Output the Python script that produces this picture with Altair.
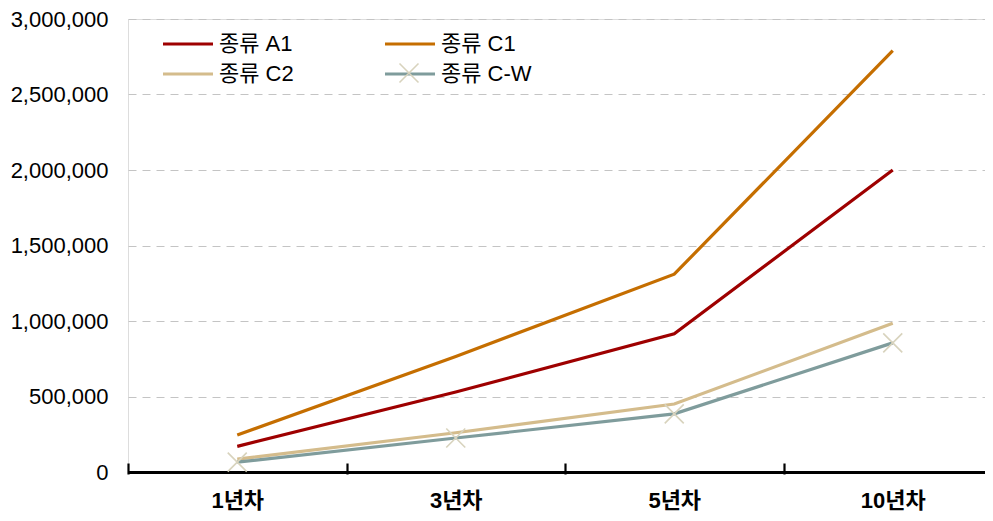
import altair as alt
import pandas as pd

categories = ["1년차", "3년차", "5년차", "10년차"]
series_names = ["종류 A1", "종류 C1", "종류 C2", "종류 C-W"]
series_codes = ["a1", "c1", "c2", "cw"]
vals_a1 = [170000, 530000, 915000, 2000000]
vals_c1 = [245000, 765000, 1310000, 2790000]
vals_c2 = [85000, 260000, 450000, 985000]
vals_cw = [65000, 225000, 385000, 855000]
y_ticks = [0, 500000, 1000000, 1500000, 2000000, 2500000, 3000000]

colors = ["#9e0000", "#c56e00", "#d4bc8c", "#7f9c9c"]
marker_color = "#d8d3bd"

rows = []
for name, code, vals in zip(series_names, series_codes, [vals_a1, vals_c1, vals_c2, vals_cw]):
    for c, v in zip(categories, vals):
        rows.append({"cat": c, "series": name, "code": code, "value": v,
                     "ord": series_names.index(name)})
df = pd.DataFrame(rows)
df_cw = df[df["code"] == "cw"]

LAT = "Liberation Sans, Noto Sans CJK KR"

x_enc = alt.X(
    "cat:N",
    sort=categories,
    scale=alt.Scale(paddingInner=0, paddingOuter=0, range=[0, 874]),
    axis=alt.Axis(
        title=None, domain=False, offset=-9, ticks=True, tickBand="extent",
        tickSize=11, tickColor="#000", tickWidth=2.2, labelAngle=0,
        labelFont=LAT, labelFontSize=22, labelFontWeight="bold", labelColor="#000",
        labelPadding=16, grid=False,
    ),
)
y_enc = alt.Y(
    "value:Q",
    scale=alt.Scale(domain=[0, 3000000], nice=False),
    axis=alt.Axis(
        title=None, values=y_ticks, format=",d", domain=False, ticks=False,
        labelFont=LAT, labelFontSize=22, labelColor="#000", labelPadding=20,
        gridColor={"condition": {"test": "datum.value === 0", "value": "#000"}, "value": "#c4c4c4"},
        gridDash={"condition": {"test": "datum.value === 0", "value": []}, "value": [8, 6]},
        gridWidth={"condition": {"test": "datum.value === 0", "value": 3.2}, "value": 1},
    ),
)

LEG_X, LEG_Y = 48, 13
COL2_DX, ROW_DY = 222, 30

line_symbol = "M-2.5,0H2.5"
x_path = "M-2.5,0M2.5,0M-0.95,-0.95L0.95,0.95M-0.95,0.95L0.95,-0.95"

lines = alt.Chart(df).mark_line(strokeWidth=3.2).encode(
    x=x_enc,
    y=y_enc,
    color=alt.Color(
        "series:N",
        scale=alt.Scale(domain=series_names, range=colors),
        legend=alt.Legend(
            orient="none", legendX=LEG_X, legendY=LEG_Y, columns=2, direction="horizontal",
            title=None, padding=0, symbolSize=400, symbolType=line_symbol, symbolStrokeWidth=3.2,
            labelFont=LAT, labelFontSize=22, labelOffset=19, labelColor="#000",
            rowPadding=7, columnPadding=84, labelLimit=300,
        ),
    ),
    order="ord:Q",
)

markers = alt.Chart(df_cw).mark_point(
    filled=False, size=400, strokeWidth=1.6, color=marker_color, opacity=1
).encode(
    x=alt.X("cat:N", sort=categories),
    y=alt.Y("value:Q"),
    shape=alt.Shape(
        "code:N",
        scale=alt.Scale(domain=["cw"], range=[x_path]),
        legend=alt.Legend(
            orient="none", legendX=LEG_X + COL2_DX, legendY=LEG_Y + ROW_DY,
            title=None, padding=0, symbolSize=400, labelExpr="''",
            symbolStrokeColor=marker_color, symbolStrokeWidth=1.6,
            symbolFillColor="transparent", symbolOpacity=1,
            labelFont=LAT, labelFontSize=22, labelOffset=19,
        ),
    ),
)

chart = alt.layer(lines, markers).properties(
    width=857, height=453,
    autosize=alt.AutoSizeParams(type="none"),
    padding={"left": 120, "top": 11, "right": 0, "bottom": 41},
).configure_view(stroke=None).configure(background="white")

chart.save("out.html", embed_options={"renderer": "svg", "actions": False})
